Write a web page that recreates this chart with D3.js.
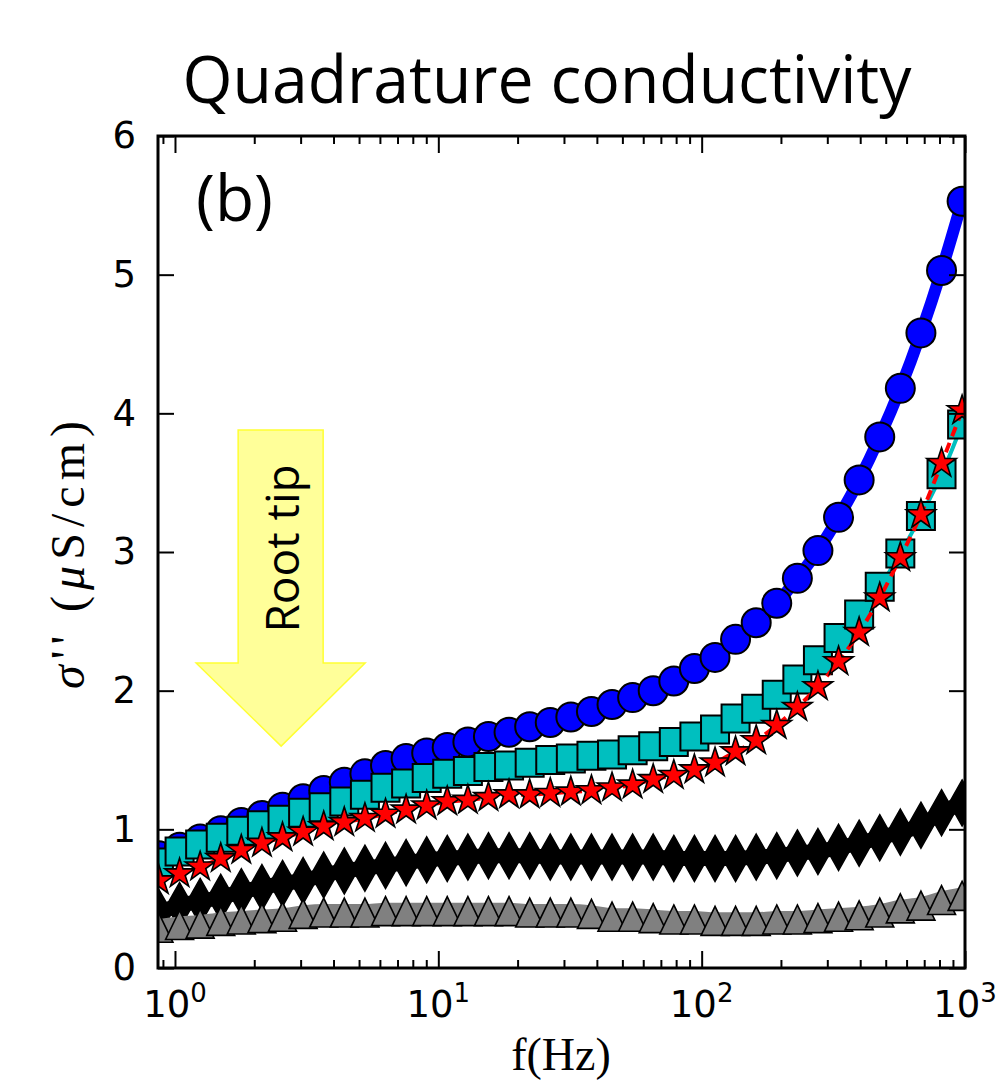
<!DOCTYPE html>
<html><head><meta charset="utf-8">
<script src="https://cdn.jsdelivr.net/npm/d3@7"></script>
<style>body{margin:0;background:#fff} svg{display:block}</style>
</head><body>
<svg id="chart" width="1001" height="1083"></svg>
<script>
// ---- data ----
const freqs = [0.869,1.041,1.246,1.492,1.786,2.139,2.561,3.066,3.671,4.395,5.263,6.302,7.545,9.034,10.81,12.95,15.50,18.56,22.23,26.61,31.86,38.15,45.67,54.69,65.46,78.39,93.85,112.4,134.5,161.1,192.8,230.9,276.4,331.0,396.3,474.5,568.1,680.2,814.5,975.0];
const blueCircles = [0.81,0.87,0.93,0.99,1.05,1.10,1.16,1.22,1.28,1.34,1.40,1.46,1.51,1.55,1.59,1.63,1.67,1.70,1.74,1.77,1.81,1.85,1.90,1.95,2.00,2.07,2.16,2.24,2.37,2.49,2.63,2.81,3.01,3.25,3.52,3.83,4.18,4.58,5.03,5.53];
const cyanSquares = [0.76,0.84,0.89,0.94,0.99,1.03,1.07,1.12,1.16,1.20,1.25,1.30,1.33,1.37,1.40,1.42,1.45,1.46,1.48,1.50,1.51,1.53,1.54,1.57,1.60,1.63,1.67,1.72,1.80,1.87,1.97,2.08,2.22,2.38,2.55,2.75,2.99,3.26,3.56,3.92];
const redStars = [0.63,0.68,0.73,0.79,0.85,0.90,0.94,0.98,1.02,1.05,1.08,1.11,1.14,1.17,1.20,1.21,1.23,1.25,1.25,1.26,1.27,1.28,1.30,1.32,1.36,1.39,1.43,1.48,1.56,1.64,1.75,1.88,2.03,2.21,2.42,2.67,2.96,3.27,3.64,4.02];
const blackDiamonds = [0.40,0.45,0.48,0.51,0.55,0.58,0.61,0.63,0.67,0.70,0.72,0.74,0.76,0.78,0.79,0.80,0.81,0.81,0.81,0.80,0.80,0.80,0.80,0.80,0.80,0.79,0.79,0.79,0.79,0.80,0.81,0.83,0.84,0.87,0.90,0.94,0.98,1.03,1.12,1.19];
const grayTriangles = [0.29,0.31,0.32,0.34,0.35,0.36,0.37,0.39,0.40,0.40,0.40,0.41,0.41,0.41,0.41,0.41,0.41,0.41,0.40,0.40,0.40,0.39,0.37,0.37,0.36,0.35,0.35,0.34,0.34,0.34,0.35,0.35,0.36,0.37,0.38,0.40,0.43,0.45,0.49,0.52];
const yTicks = [0,1,2,3,4,5,6];
const xMajorTicks = [1,10,100,1000];
const xTickExponents = ["0","1","2","3"];
const xDomain = [0.862, 1000];
const yDomain = [0, 6];
const titleText = "Quadrature conductivity";
const panelLabel = "(b)";
const arrowLabel = "Root tip";

// ---- layout ----
const L = 158, R = 965, T = 136, B = 968;
const svg = d3.select("#chart");
const x = d3.scaleLog().domain(xDomain).range([L, R]);
const y = d3.scaleLinear().domain(yDomain).range([B, T]);

svg.append("defs").append("clipPath").attr("id","plotclip")
  .append("rect").attr("x",L).attr("y",T).attr("width",R-L).attr("height",B-T);

// marker path generators (centered at 0,0)
function starPath(Ro){const Ri=Ro*0.381966;let p=[];for(let k=0;k<10;k++){const r=k%2?Ri:Ro;const a=-Math.PI/2+k*Math.PI/5;p.push([r*Math.cos(a),r*Math.sin(a)]);}return "M"+p.map(q=>q.join(",")).join("L")+"Z";}
function diamondPath(w,h){return `M0,${-h/2}L${w/2},0L0,${h/2}L${-w/2},0Z`;}
function trianglePath(w,h){return `M0,${-h/2}L${w/2},${h/2}L${-w/2},${h/2}Z`;}
function squarePath(s){return `M${-s/2},${-s/2}h${s}v${s}h${-s}Z`;}
function circlePath(r){return `M${r},0A${r},${r} 0 1,1 ${-r},0A${r},${r} 0 1,1 ${r},0Z`;}

const series = [
  {vals: blueCircles, color:"#0000ff", lw:12, dash:null, lineColor:"#0000ff", marker:circlePath(14.5), mstroke:"#000", msw:2},
  {vals: cyanSquares, color:"#00bfbf", lw:4, dash:null, lineColor:"#00bfbf", marker:squarePath(28), mstroke:"#000", msw:2},
  {vals: redStars, color:"#ff0000", lw:4, dash:"10,7", lineColor:"#ff0000", marker:starPath(15.5), mstroke:"#000", msw:1.6},
  {vals: blackDiamonds, color:"#000000", lw:15, dash:null, lineColor:"#000000", marker:diamondPath(26,46), mstroke:"#000", msw:1.5},
  {vals: grayTriangles, color:"#808080", lw:17, dash:null, lineColor:"#808080", marker:trianglePath(28,29), mstroke:"#000", msw:1.6}
];

const plot = svg.append("g").attr("clip-path","url(#plotclip)");
const line = d3.line().x((d,i)=>x(freqs[i])).y(d=>y(d)).curve(d3.curveMonotoneX);
series.forEach(s=>{
  plot.append("path").attr("d", line(s.vals)).attr("fill","none")
    .attr("stroke", s.lineColor).attr("stroke-width", s.lw)
    .attr("stroke-dasharray", s.dash).attr("stroke-linejoin","round");
  plot.append("g").selectAll("path").data(s.vals).join("path")
    .attr("d", s.marker)
    .attr("transform",(d,i)=>`translate(${x(freqs[i])},${y(d)})`)
    .attr("fill", s.color).attr("stroke", s.mstroke).attr("stroke-width", s.msw)
    .attr("stroke-linejoin","miter");
});

// ---- arrow annotation ----
const ax = x(2.53), aTop = y(3.88), aNeck = y(2.2), aTip = y(1.6);
svg.append("path")
  .attr("d", `M${ax-43},${aTop}H${ax+42}V${aNeck}H${ax+84}L${ax},${aTip}L${ax-85},${aNeck}H${ax-43}Z`)
  .attr("fill","#ffff99").attr("stroke","#ffff33").attr("stroke-width",1.5);
svg.append("text").attr("transform",`translate(${ax+18},${(aTop+aNeck)/2+2}) rotate(-90)`)
  .attr("text-anchor","middle").attr("font-family","'Open Sans'").attr("font-size",46)
  .text(arrowLabel);

// ---- axes ----
const minorTicks = x.ticks().filter(v => !xMajorTicks.some(m => Math.abs(m-v)<1e-9));
function styleAxis(g){g.select(".domain").remove();g.selectAll(".tick line").attr("stroke","#000").attr("stroke-width",2);}
svg.append("g").attr("transform",`translate(0,${B})`).call(d3.axisBottom(x).tickValues(xMajorTicks).tickSize(-17).tickFormat("")).call(styleAxis);
svg.append("g").attr("transform",`translate(0,${B})`).call(d3.axisBottom(x).tickValues(minorTicks).tickSize(-8).tickFormat("")).call(styleAxis);
svg.append("g").attr("transform",`translate(0,${T})`).call(d3.axisTop(x).tickValues(xMajorTicks).tickSize(-17).tickFormat("")).call(styleAxis);
svg.append("g").attr("transform",`translate(0,${T})`).call(d3.axisTop(x).tickValues(minorTicks).tickSize(-8).tickFormat("")).call(styleAxis);
const yl = svg.append("g").attr("transform",`translate(${L},0)`).call(d3.axisLeft(y).tickValues(yTicks).tickSize(-16).tickPadding(22).tickFormat(d3.format("d"))).call(styleAxis);
yl.selectAll("text").attr("font-family","'DejaVu Sans'").attr("font-size",37).attr("fill","#000");
svg.append("g").attr("transform",`translate(${R},0)`).call(d3.axisRight(y).tickValues(yTicks).tickSize(-16).tickFormat("")).call(styleAxis);

// x tick labels 10^n
const xl = svg.append("g").selectAll("text").data(xMajorTicks).join("text")
  .attr("x", d=>x(d)).attr("y", 1017).attr("text-anchor","middle")
  .attr("font-family","'DejaVu Sans'").attr("font-size",37).attr("fill","#000");
xl.append("tspan").text("10");
xl.append("tspan").attr("dy",-15).attr("font-size",26).text((d,i)=>xTickExponents[i]);

// spines
svg.append("rect").attr("x",L).attr("y",T).attr("width",R-L).attr("height",B-T)
  .attr("fill","none").attr("stroke","#000").attr("stroke-width",3);

// title & labels
svg.append("text").attr("x",547).attr("y",103).attr("text-anchor","middle")
  .attr("font-family","'Open Sans'").attr("font-size",66).attr("textLength",729)
  .attr("lengthAdjust","spacingAndGlyphs").text(titleText);
svg.append("text").attr("x",196).attr("y",221).attr("font-family","'Open Sans'").attr("font-size",64).text(panelLabel);

const ylab = svg.append("text").attr("transform","translate(84,555) rotate(-90)").attr("text-anchor","middle")
  .attr("font-family","'Liberation Serif'").attr("font-size",48).attr("fill","#000")
  .attr("textLength",268).attr("lengthAdjust","spacing");
ylab.append("tspan").attr("font-style","italic").text("σ");
ylab.append("tspan").text("'' (");
ylab.append("tspan").attr("font-style","italic").text("μ");
ylab.append("tspan").text("S/cm)");

svg.append("text").attr("x",561).attr("y",1070).attr("text-anchor","middle")
  .attr("font-family","'Liberation Serif'").attr("font-size",46).text("f(Hz)");
</script>
</body></html>
